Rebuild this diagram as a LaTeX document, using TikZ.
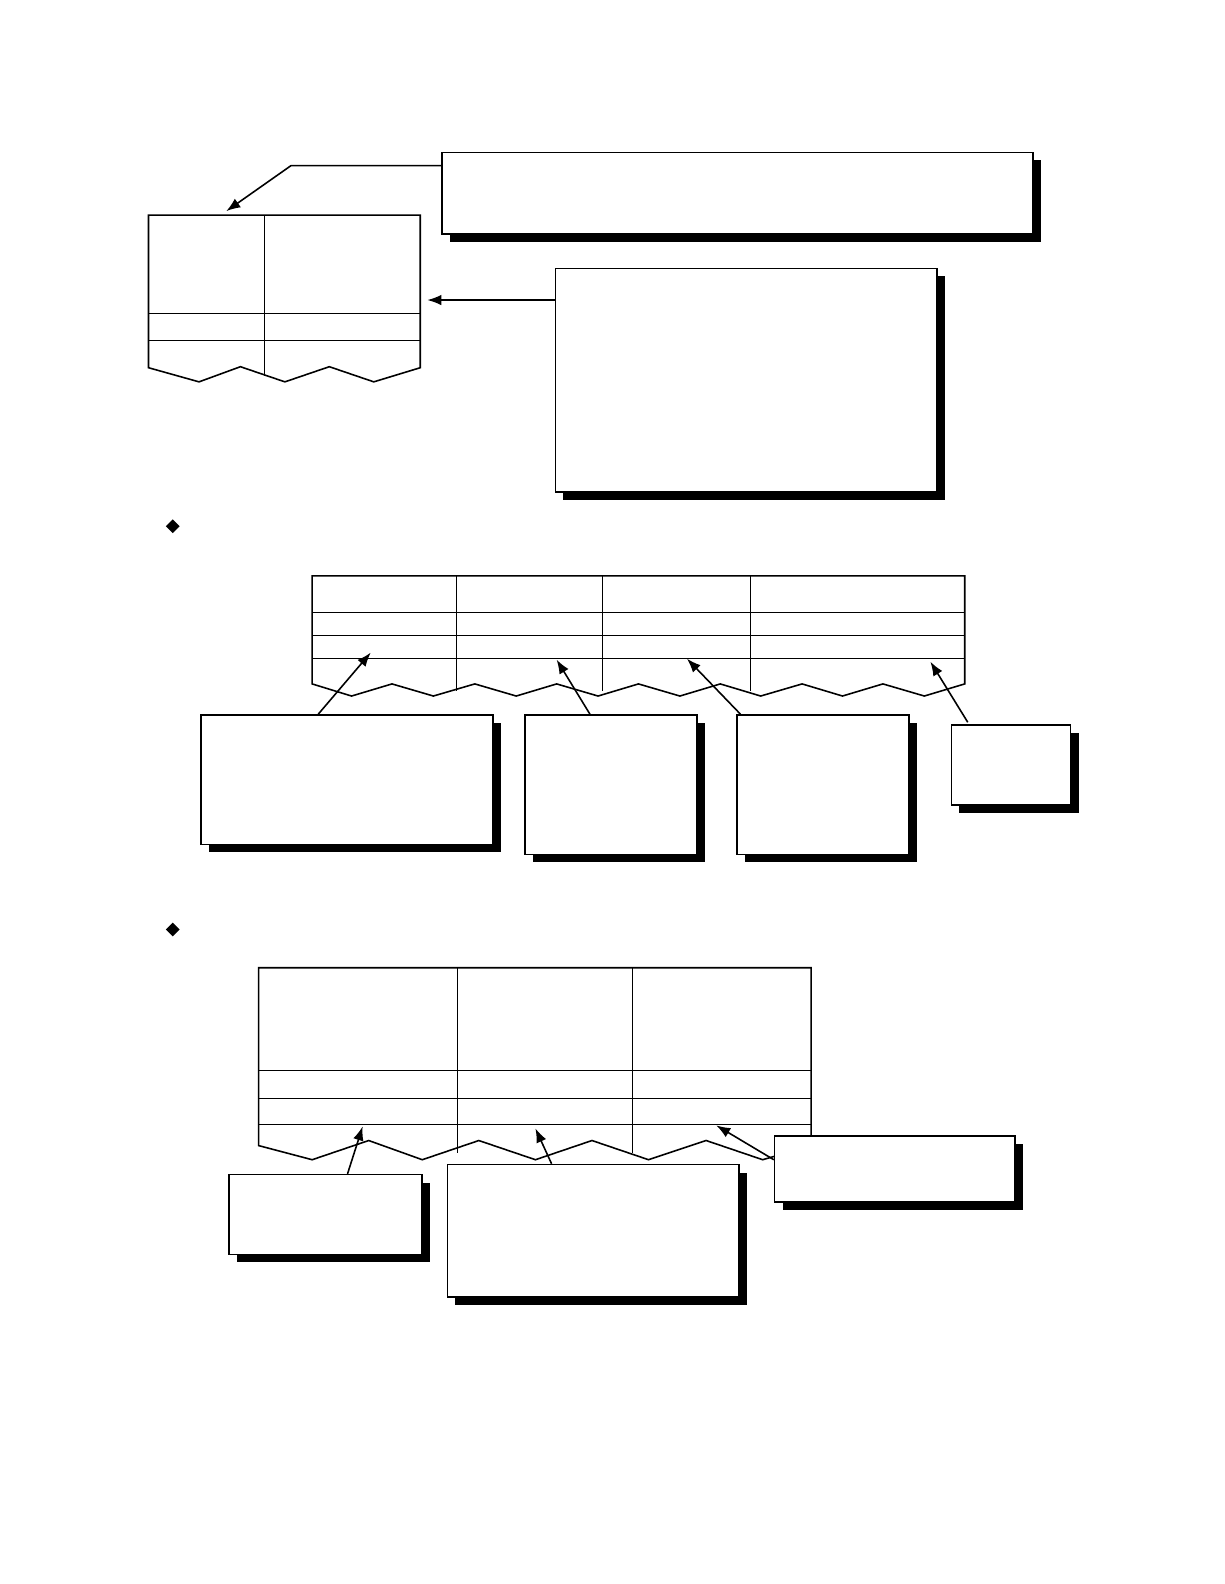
\documentclass[tikz,border=0pt]{standalone}
\usetikzlibrary{shadows, shapes.geometric, arrows.meta}
\tikzset{
  callout/.style={draw, fill=white, line width=0.9pt, inner sep=0pt,
    anchor=north west,
    drop shadow={shadow xshift=0.16cm, shadow yshift=-0.16cm, opacity=1, fill=black}},
  pointer/.style={-{Latex[length=8pt, width=6pt]}, line width=0.9pt},
  grid line/.style={line width=0.5pt},
  frame line/.style={line width=0.9pt}
}
\begin{document}
\begin{tikzpicture}[x=0.0202cm, y=-0.0202cm]
    %% first table
    \draw[frame line] (147,364) -- (147,213) -- (416,213) -- (416,364)
        -- (370,378) -- (326,363) -- (282,378) -- (238,363) -- (197,378) -- cycle;
    \draw[grid line] (147,310) -- (416,310);
    \draw[grid line] (147,337) -- (416,337);
    \draw[grid line] (262,213) -- (262,372);

    \node[callout, minimum width=585*0.0202cm, minimum height=81*0.0202cm] (head) at (437,150) {};
    \node[callout, minimum width=378*0.0202cm, minimum height=221*0.0202cm] (body) at (549,265) {};
    \coordinate (bend) at (288,164);
    \coordinate (headtip) at (224,209);
    \coordinate (bodytip) at (423,297);
    \draw[pointer] (head.west |- 0,164) -- (bend) -- (headtip);
    \draw[pointer] (body.west |- 0,297) -- (bodytip);

    \node[diamond, fill=black, inner sep=0pt, minimum size=8pt] (mark1) at (171,521) {};
    \node[diamond, fill=black, inner sep=0pt, minimum size=8pt] (mark2) at (171,920) {};

    %% second table
    \draw[frame line] (309,677) -- (309,570) -- (955,570) -- (955,677)
        -- (915,689) -- (874,677) -- (834,689) -- (794,677) -- (753,689)
        -- (713,677) -- (673,689) -- (632,677) -- (592,689) -- (551,677)
        -- (511,689) -- (470,677) -- (429,689) -- (388,677) -- (348,689) -- cycle;
    \foreach \y in {606, 629, 652}
        \draw[grid line] (309,\y) -- (955,\y);
    \foreach \x in {452, 596, 743}
        \draw[grid line] (\x,570) -- (\x,684);

    \node[callout, minimum width=289*0.0202cm, minimum height=128*0.0202cm] (noteA) at (198,707) {};
    \node[callout, minimum width=170*0.0202cm, minimum height=138*0.0202cm] (noteB) at (519,707) {};
    \node[callout, minimum width=170*0.0202cm, minimum height=138*0.0202cm] (noteC) at (729,707) {};
    \node[callout, minimum width=118*0.0202cm, minimum height=79*0.0202cm] (noteD) at (941,717) {};
    \draw[pointer] (315,707) -- (367,646);
    \draw[pointer] (584,707) -- (551,653);
    \draw[pointer] (733,707) -- (680,652);
    \draw[pointer] (958,715) -- (921,655);

    %% third table
    \draw[frame line] (256,1134) -- (256,958) -- (803,958) -- (803,1134)
        -- (755,1148) -- (699,1129) -- (642,1148) -- (586,1129) -- (530,1148)
        -- (474,1129) -- (418,1148) -- (365,1129) -- (309,1148) -- cycle;
    \foreach \y in {1060, 1087, 1113}
        \draw[grid line] (256,\y) -- (803,\y);
    \foreach \x in {453, 626}
        \draw[grid line] (\x,958) -- (\x,1141);

    \node[callout, minimum width=191*0.0202cm, minimum height=79*0.0202cm] (noteE) at (226,1162) {};
    \node[callout, minimum width=289*0.0202cm, minimum height=131*0.0202cm] (noteF) at (442,1152) {};
    \node[callout, minimum width=238*0.0202cm, minimum height=65*0.0202cm] (noteG) at (766,1124) {};
    \draw[pointer] (344,1162) -- (359,1115);
    \draw[pointer] (546,1152) -- (530,1117);
    \draw[pointer] (766,1148) -- (709,1114);

    \pgfresetboundingbox
    \useasboundingbox (0,0) rectangle (1212,1568);
\end{tikzpicture}
\end{document}
